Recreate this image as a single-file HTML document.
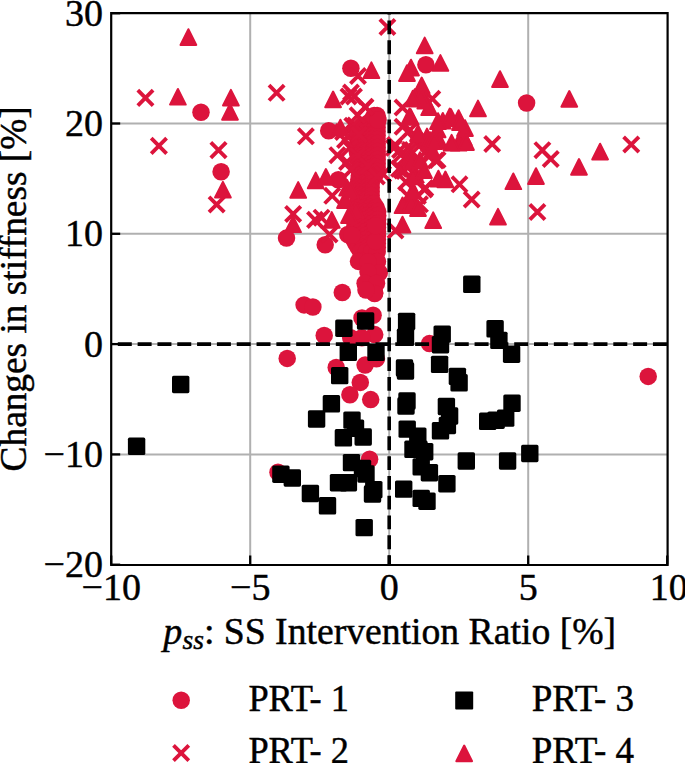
<!DOCTYPE html>
<html><head><meta charset="utf-8"><style>
html,body{margin:0;padding:0;background:#fff;width:685px;height:763px;overflow:hidden;font-family:"Liberation Serif",serif;}
svg{display:block}
</style></head><body>
<svg width="685" height="763" viewBox="0 0 685 763">
<rect width="685" height="763" fill="#fff"/>
<g stroke="#b0b0b0" stroke-width="2">
<line x1="250.2" y1="13.2" x2="250.2" y2="564.7"/>
<line x1="389.2" y1="13.2" x2="389.2" y2="564.7"/>
<line x1="528.2" y1="13.2" x2="528.2" y2="564.7"/>
<line x1="111.2" y1="123.5" x2="667.2" y2="123.5"/>
<line x1="111.2" y1="233.8" x2="667.2" y2="233.8"/>
<line x1="111.2" y1="344.1" x2="667.2" y2="344.1"/>
<line x1="111.2" y1="454.4" x2="667.2" y2="454.4"/>
</g>
<circle cx="374.2" cy="115.6" r="8.75" fill="#dc143c"/>
<circle cx="377.1" cy="115.6" r="8.75" fill="#dc143c"/>
<circle cx="371.9" cy="119.6" r="8.75" fill="#dc143c"/>
<circle cx="377.1" cy="119.6" r="8.75" fill="#dc143c"/>
<circle cx="367.4" cy="123.6" r="8.75" fill="#dc143c"/>
<circle cx="372.3" cy="123.6" r="8.75" fill="#dc143c"/>
<circle cx="377.1" cy="123.6" r="8.75" fill="#dc143c"/>
<circle cx="363.7" cy="127.6" r="8.75" fill="#dc143c"/>
<circle cx="368.2" cy="127.6" r="8.75" fill="#dc143c"/>
<circle cx="372.6" cy="127.6" r="8.75" fill="#dc143c"/>
<circle cx="377.1" cy="127.6" r="8.75" fill="#dc143c"/>
<circle cx="361.0" cy="131.6" r="8.75" fill="#dc143c"/>
<circle cx="366.4" cy="131.6" r="8.75" fill="#dc143c"/>
<circle cx="371.8" cy="131.6" r="8.75" fill="#dc143c"/>
<circle cx="377.1" cy="131.6" r="8.75" fill="#dc143c"/>
<circle cx="358.7" cy="135.6" r="8.75" fill="#dc143c"/>
<circle cx="363.3" cy="135.6" r="8.75" fill="#dc143c"/>
<circle cx="367.9" cy="135.6" r="8.75" fill="#dc143c"/>
<circle cx="372.5" cy="135.6" r="8.75" fill="#dc143c"/>
<circle cx="377.1" cy="135.6" r="8.75" fill="#dc143c"/>
<circle cx="358.1" cy="139.6" r="8.75" fill="#dc143c"/>
<circle cx="362.9" cy="139.6" r="8.75" fill="#dc143c"/>
<circle cx="367.6" cy="139.6" r="8.75" fill="#dc143c"/>
<circle cx="372.4" cy="139.6" r="8.75" fill="#dc143c"/>
<circle cx="377.1" cy="139.6" r="8.75" fill="#dc143c"/>
<circle cx="357.6" cy="143.6" r="8.75" fill="#dc143c"/>
<circle cx="362.5" cy="143.6" r="8.75" fill="#dc143c"/>
<circle cx="367.4" cy="143.6" r="8.75" fill="#dc143c"/>
<circle cx="372.3" cy="143.6" r="8.75" fill="#dc143c"/>
<circle cx="377.2" cy="143.6" r="8.75" fill="#dc143c"/>
<circle cx="357.1" cy="147.6" r="8.75" fill="#dc143c"/>
<circle cx="362.1" cy="147.6" r="8.75" fill="#dc143c"/>
<circle cx="367.1" cy="147.6" r="8.75" fill="#dc143c"/>
<circle cx="372.1" cy="147.6" r="8.75" fill="#dc143c"/>
<circle cx="377.2" cy="147.6" r="8.75" fill="#dc143c"/>
<circle cx="357.2" cy="151.6" r="8.75" fill="#dc143c"/>
<circle cx="362.2" cy="151.6" r="8.75" fill="#dc143c"/>
<circle cx="367.2" cy="151.6" r="8.75" fill="#dc143c"/>
<circle cx="372.2" cy="151.6" r="8.75" fill="#dc143c"/>
<circle cx="377.2" cy="151.6" r="8.75" fill="#dc143c"/>
<circle cx="358.2" cy="155.6" r="8.75" fill="#dc143c"/>
<circle cx="363.0" cy="155.6" r="8.75" fill="#dc143c"/>
<circle cx="367.7" cy="155.6" r="8.75" fill="#dc143c"/>
<circle cx="372.5" cy="155.6" r="8.75" fill="#dc143c"/>
<circle cx="377.2" cy="155.6" r="8.75" fill="#dc143c"/>
<circle cx="359.3" cy="159.6" r="8.75" fill="#dc143c"/>
<circle cx="365.3" cy="159.6" r="8.75" fill="#dc143c"/>
<circle cx="371.2" cy="159.6" r="8.75" fill="#dc143c"/>
<circle cx="377.2" cy="159.6" r="8.75" fill="#dc143c"/>
<circle cx="360.4" cy="163.6" r="8.75" fill="#dc143c"/>
<circle cx="366.0" cy="163.6" r="8.75" fill="#dc143c"/>
<circle cx="371.6" cy="163.6" r="8.75" fill="#dc143c"/>
<circle cx="377.2" cy="163.6" r="8.75" fill="#dc143c"/>
<circle cx="360.4" cy="167.6" r="8.75" fill="#dc143c"/>
<circle cx="366.0" cy="167.6" r="8.75" fill="#dc143c"/>
<circle cx="371.6" cy="167.6" r="8.75" fill="#dc143c"/>
<circle cx="377.2" cy="167.6" r="8.75" fill="#dc143c"/>
<circle cx="359.9" cy="171.6" r="8.75" fill="#dc143c"/>
<circle cx="365.7" cy="171.6" r="8.75" fill="#dc143c"/>
<circle cx="371.5" cy="171.6" r="8.75" fill="#dc143c"/>
<circle cx="377.2" cy="171.6" r="8.75" fill="#dc143c"/>
<circle cx="359.3" cy="175.6" r="8.75" fill="#dc143c"/>
<circle cx="364.4" cy="175.6" r="8.75" fill="#dc143c"/>
<circle cx="369.5" cy="175.6" r="8.75" fill="#dc143c"/>
<circle cx="374.6" cy="175.6" r="8.75" fill="#dc143c"/>
<circle cx="358.8" cy="179.6" r="8.75" fill="#dc143c"/>
<circle cx="363.1" cy="179.6" r="8.75" fill="#dc143c"/>
<circle cx="367.3" cy="179.6" r="8.75" fill="#dc143c"/>
<circle cx="371.6" cy="179.6" r="8.75" fill="#dc143c"/>
<circle cx="358.5" cy="183.6" r="8.75" fill="#dc143c"/>
<circle cx="362.8" cy="183.6" r="8.75" fill="#dc143c"/>
<circle cx="367.0" cy="183.6" r="8.75" fill="#dc143c"/>
<circle cx="371.2" cy="183.6" r="8.75" fill="#dc143c"/>
<circle cx="358.2" cy="187.6" r="8.75" fill="#dc143c"/>
<circle cx="362.6" cy="187.6" r="8.75" fill="#dc143c"/>
<circle cx="366.9" cy="187.6" r="8.75" fill="#dc143c"/>
<circle cx="371.2" cy="187.6" r="8.75" fill="#dc143c"/>
<circle cx="358.0" cy="191.6" r="8.75" fill="#dc143c"/>
<circle cx="362.4" cy="191.6" r="8.75" fill="#dc143c"/>
<circle cx="366.8" cy="191.6" r="8.75" fill="#dc143c"/>
<circle cx="371.2" cy="191.6" r="8.75" fill="#dc143c"/>
<circle cx="357.8" cy="195.6" r="8.75" fill="#dc143c"/>
<circle cx="362.3" cy="195.6" r="8.75" fill="#dc143c"/>
<circle cx="366.8" cy="195.6" r="8.75" fill="#dc143c"/>
<circle cx="371.2" cy="195.6" r="8.75" fill="#dc143c"/>
<circle cx="358.1" cy="199.6" r="8.75" fill="#dc143c"/>
<circle cx="362.5" cy="199.6" r="8.75" fill="#dc143c"/>
<circle cx="366.9" cy="199.6" r="8.75" fill="#dc143c"/>
<circle cx="371.2" cy="199.6" r="8.75" fill="#dc143c"/>
<circle cx="358.3" cy="203.6" r="8.75" fill="#dc143c"/>
<circle cx="363.4" cy="203.6" r="8.75" fill="#dc143c"/>
<circle cx="368.5" cy="203.6" r="8.75" fill="#dc143c"/>
<circle cx="373.6" cy="203.6" r="8.75" fill="#dc143c"/>
<circle cx="358.6" cy="207.6" r="8.75" fill="#dc143c"/>
<circle cx="364.5" cy="207.6" r="8.75" fill="#dc143c"/>
<circle cx="370.3" cy="207.6" r="8.75" fill="#dc143c"/>
<circle cx="376.2" cy="207.6" r="8.75" fill="#dc143c"/>
<circle cx="358.3" cy="211.6" r="8.75" fill="#dc143c"/>
<circle cx="363.2" cy="211.6" r="8.75" fill="#dc143c"/>
<circle cx="368.0" cy="211.6" r="8.75" fill="#dc143c"/>
<circle cx="372.9" cy="211.6" r="8.75" fill="#dc143c"/>
<circle cx="377.7" cy="211.6" r="8.75" fill="#dc143c"/>
<circle cx="357.3" cy="215.6" r="8.75" fill="#dc143c"/>
<circle cx="362.4" cy="215.6" r="8.75" fill="#dc143c"/>
<circle cx="367.5" cy="215.6" r="8.75" fill="#dc143c"/>
<circle cx="372.6" cy="215.6" r="8.75" fill="#dc143c"/>
<circle cx="377.7" cy="215.6" r="8.75" fill="#dc143c"/>
<circle cx="356.2" cy="219.6" r="8.75" fill="#dc143c"/>
<circle cx="361.6" cy="219.6" r="8.75" fill="#dc143c"/>
<circle cx="366.9" cy="219.6" r="8.75" fill="#dc143c"/>
<circle cx="372.3" cy="219.6" r="8.75" fill="#dc143c"/>
<circle cx="377.6" cy="219.6" r="8.75" fill="#dc143c"/>
<circle cx="355.1" cy="223.6" r="8.75" fill="#dc143c"/>
<circle cx="360.7" cy="223.6" r="8.75" fill="#dc143c"/>
<circle cx="366.4" cy="223.6" r="8.75" fill="#dc143c"/>
<circle cx="372.0" cy="223.6" r="8.75" fill="#dc143c"/>
<circle cx="377.6" cy="223.6" r="8.75" fill="#dc143c"/>
<circle cx="354.6" cy="227.6" r="8.75" fill="#dc143c"/>
<circle cx="360.3" cy="227.6" r="8.75" fill="#dc143c"/>
<circle cx="366.1" cy="227.6" r="8.75" fill="#dc143c"/>
<circle cx="371.8" cy="227.6" r="8.75" fill="#dc143c"/>
<circle cx="377.5" cy="227.6" r="8.75" fill="#dc143c"/>
<circle cx="354.3" cy="231.6" r="8.75" fill="#dc143c"/>
<circle cx="360.1" cy="231.6" r="8.75" fill="#dc143c"/>
<circle cx="365.9" cy="231.6" r="8.75" fill="#dc143c"/>
<circle cx="371.7" cy="231.6" r="8.75" fill="#dc143c"/>
<circle cx="377.5" cy="231.6" r="8.75" fill="#dc143c"/>
<circle cx="354.0" cy="235.6" r="8.75" fill="#dc143c"/>
<circle cx="359.9" cy="235.6" r="8.75" fill="#dc143c"/>
<circle cx="365.7" cy="235.6" r="8.75" fill="#dc143c"/>
<circle cx="371.6" cy="235.6" r="8.75" fill="#dc143c"/>
<circle cx="377.4" cy="235.6" r="8.75" fill="#dc143c"/>
<circle cx="353.8" cy="239.6" r="8.75" fill="#dc143c"/>
<circle cx="359.7" cy="239.6" r="8.75" fill="#dc143c"/>
<circle cx="365.6" cy="239.6" r="8.75" fill="#dc143c"/>
<circle cx="371.5" cy="239.6" r="8.75" fill="#dc143c"/>
<circle cx="377.4" cy="239.6" r="8.75" fill="#dc143c"/>
<circle cx="355.9" cy="243.6" r="8.75" fill="#dc143c"/>
<circle cx="361.3" cy="243.6" r="8.75" fill="#dc143c"/>
<circle cx="366.6" cy="243.6" r="8.75" fill="#dc143c"/>
<circle cx="372.0" cy="243.6" r="8.75" fill="#dc143c"/>
<circle cx="377.3" cy="243.6" r="8.75" fill="#dc143c"/>
<circle cx="358.3" cy="247.6" r="8.75" fill="#dc143c"/>
<circle cx="363.1" cy="247.6" r="8.75" fill="#dc143c"/>
<circle cx="367.8" cy="247.6" r="8.75" fill="#dc143c"/>
<circle cx="372.5" cy="247.6" r="8.75" fill="#dc143c"/>
<circle cx="377.3" cy="247.6" r="8.75" fill="#dc143c"/>
<circle cx="360.7" cy="251.6" r="8.75" fill="#dc143c"/>
<circle cx="366.2" cy="251.6" r="8.75" fill="#dc143c"/>
<circle cx="371.7" cy="251.6" r="8.75" fill="#dc143c"/>
<circle cx="377.2" cy="251.6" r="8.75" fill="#dc143c"/>
<circle cx="201.0" cy="112.3" r="8.75" fill="#dc143c"/>
<circle cx="221.1" cy="171.7" r="8.75" fill="#dc143c"/>
<circle cx="350.9" cy="68.3" r="8.75" fill="#dc143c"/>
<circle cx="374.5" cy="117.0" r="8.75" fill="#dc143c"/>
<circle cx="378.0" cy="120.0" r="8.75" fill="#dc143c"/>
<circle cx="328.7" cy="130.7" r="8.75" fill="#dc143c"/>
<circle cx="338.3" cy="179.7" r="8.75" fill="#dc143c"/>
<circle cx="325.2" cy="244.7" r="8.75" fill="#dc143c"/>
<circle cx="342.3" cy="292.5" r="8.75" fill="#dc143c"/>
<circle cx="304.1" cy="304.9" r="8.75" fill="#dc143c"/>
<circle cx="312.9" cy="307.0" r="8.75" fill="#dc143c"/>
<circle cx="324.2" cy="335.4" r="8.75" fill="#dc143c"/>
<circle cx="287.2" cy="358.4" r="8.75" fill="#dc143c"/>
<circle cx="370.0" cy="286.4" r="8.75" fill="#dc143c"/>
<circle cx="374.7" cy="292.8" r="8.75" fill="#dc143c"/>
<circle cx="373.1" cy="315.3" r="8.75" fill="#dc143c"/>
<circle cx="374.7" cy="334.6" r="8.75" fill="#dc143c"/>
<circle cx="361.9" cy="337.8" r="8.75" fill="#dc143c"/>
<circle cx="350.7" cy="337.8" r="8.75" fill="#dc143c"/>
<circle cx="365.1" cy="365.1" r="8.75" fill="#dc143c"/>
<circle cx="336.2" cy="367.5" r="8.75" fill="#dc143c"/>
<circle cx="360.3" cy="382.4" r="8.75" fill="#dc143c"/>
<circle cx="349.9" cy="394.8" r="8.75" fill="#dc143c"/>
<circle cx="370.7" cy="399.6" r="8.75" fill="#dc143c"/>
<circle cx="376.4" cy="358.7" r="8.75" fill="#dc143c"/>
<circle cx="369.6" cy="459.3" r="8.75" fill="#dc143c"/>
<circle cx="278.0" cy="472.3" r="8.75" fill="#dc143c"/>
<circle cx="429.5" cy="343.6" r="8.75" fill="#dc143c"/>
<circle cx="425.9" cy="64.7" r="8.75" fill="#dc143c"/>
<circle cx="526.6" cy="103.0" r="8.75" fill="#dc143c"/>
<circle cx="648.2" cy="376.4" r="8.75" fill="#dc143c"/>
<circle cx="286.5" cy="238.1" r="8.75" fill="#dc143c"/>
<circle cx="347.8" cy="234.5" r="8.75" fill="#dc143c"/>
<circle cx="351.9" cy="235.2" r="8.75" fill="#dc143c"/>
<circle cx="361.3" cy="261.1" r="8.75" fill="#dc143c"/>
<circle cx="367.6" cy="283.1" r="8.75" fill="#dc143c"/>
<circle cx="373.9" cy="292.5" r="8.75" fill="#dc143c"/>
<circle cx="375.5" cy="272.9" r="8.75" fill="#dc143c"/>
<circle cx="377.0" cy="262.0" r="8.75" fill="#dc143c"/>
<circle cx="375.5" cy="241.4" r="8.75" fill="#dc143c"/>
<circle cx="375.5" cy="225.7" r="8.75" fill="#dc143c"/>
<circle cx="358.5" cy="261.4" r="8.75" fill="#dc143c"/>
<circle cx="377.4" cy="261.4" r="8.75" fill="#dc143c"/>
<circle cx="368.0" cy="262.0" r="8.75" fill="#dc143c"/>
<circle cx="379.3" cy="272.8" r="8.75" fill="#dc143c"/>
<circle cx="368.0" cy="272.0" r="8.75" fill="#dc143c"/>
<circle cx="365.1" cy="283.2" r="8.75" fill="#dc143c"/>
<circle cx="376.5" cy="283.2" r="8.75" fill="#dc143c"/>
<circle cx="374.6" cy="293.6" r="8.75" fill="#dc143c"/>
<circle cx="366.0" cy="290.0" r="8.75" fill="#dc143c"/>
<circle cx="362.0" cy="318.0" r="8.75" fill="#dc143c"/>
<path d="M137.8 90.2L153.1 105.6M137.8 105.6L153.1 90.2" stroke="#dc143c" stroke-width="3.85" fill="none"/>
<path d="M151.2 138.2L166.6 153.6M151.2 153.6L166.6 138.2" stroke="#dc143c" stroke-width="3.85" fill="none"/>
<path d="M210.8 142.4L226.2 157.8M210.8 157.8L226.2 142.4" stroke="#dc143c" stroke-width="3.85" fill="none"/>
<path d="M209.0 196.8L224.3 212.1M209.0 212.1L224.3 196.8" stroke="#dc143c" stroke-width="3.85" fill="none"/>
<path d="M269.0 85.1L284.2 100.5M269.0 100.5L284.2 85.1" stroke="#dc143c" stroke-width="3.85" fill="none"/>
<path d="M350.4 68.3L365.6 83.7M350.4 83.7L365.6 68.3" stroke="#dc143c" stroke-width="3.85" fill="none"/>
<path d="M343.4 84.8L358.6 100.2M343.4 100.2L358.6 84.8" stroke="#dc143c" stroke-width="3.85" fill="none"/>
<path d="M340.9 88.8L356.1 104.2M340.9 104.2L356.1 88.8" stroke="#dc143c" stroke-width="3.85" fill="none"/>
<path d="M346.4 88.8L361.6 104.2M346.4 104.2L361.6 88.8" stroke="#dc143c" stroke-width="3.85" fill="none"/>
<path d="M357.9 99.5L373.1 114.9M357.9 114.9L373.1 99.5" stroke="#dc143c" stroke-width="3.85" fill="none"/>
<path d="M379.8 19.4L395.0 34.6M379.8 34.6L395.0 19.4" stroke="#dc143c" stroke-width="3.85" fill="none"/>
<path d="M298.2 128.7L313.5 144.0M298.2 144.0L313.5 128.7" stroke="#dc143c" stroke-width="3.85" fill="none"/>
<path d="M329.8 147.5L345.0 162.8M329.8 162.8L345.0 147.5" stroke="#dc143c" stroke-width="3.85" fill="none"/>
<path d="M324.6 188.2L339.8 203.5M324.6 203.5L339.8 188.2" stroke="#dc143c" stroke-width="3.85" fill="none"/>
<path d="M285.5 206.3L300.8 221.7M285.5 221.7L300.8 206.3" stroke="#dc143c" stroke-width="3.85" fill="none"/>
<path d="M307.4 212.2L322.6 227.6M307.4 227.6L322.6 212.2" stroke="#dc143c" stroke-width="3.85" fill="none"/>
<path d="M313.9 210.0L329.1 225.3M313.9 225.3L329.1 210.0" stroke="#dc143c" stroke-width="3.85" fill="none"/>
<path d="M322.0 226.8L337.2 242.2M322.0 242.2L337.2 226.8" stroke="#dc143c" stroke-width="3.85" fill="none"/>
<path d="M394.9 99.8L410.1 115.2M394.9 115.2L410.1 99.8" stroke="#dc143c" stroke-width="3.85" fill="none"/>
<path d="M424.7 91.1L439.9 106.5M424.7 106.5L439.9 91.1" stroke="#dc143c" stroke-width="3.85" fill="none"/>
<path d="M394.9 119.1L410.1 134.4M394.9 134.4L410.1 119.1" stroke="#dc143c" stroke-width="3.85" fill="none"/>
<path d="M386.2 140.2L401.4 155.5M386.2 155.5L401.4 140.2" stroke="#dc143c" stroke-width="3.85" fill="none"/>
<path d="M393.2 147.2L408.4 162.5M393.2 162.5L408.4 147.2" stroke="#dc143c" stroke-width="3.85" fill="none"/>
<path d="M391.4 161.2L406.6 176.5M391.4 176.5L406.6 161.2" stroke="#dc143c" stroke-width="3.85" fill="none"/>
<path d="M417.7 180.4L432.9 195.8M417.7 195.8L432.9 180.4" stroke="#dc143c" stroke-width="3.85" fill="none"/>
<path d="M430.0 152.3L445.2 167.7M430.0 167.7L445.2 152.3" stroke="#dc143c" stroke-width="3.85" fill="none"/>
<path d="M421.2 148.9L436.4 164.2M421.2 164.2L436.4 148.9" stroke="#dc143c" stroke-width="3.85" fill="none"/>
<path d="M484.6 136.3L499.8 151.7M484.6 151.7L499.8 136.3" stroke="#dc143c" stroke-width="3.85" fill="none"/>
<path d="M451.9 176.7L467.1 192.0M451.9 192.0L467.1 176.7" stroke="#dc143c" stroke-width="3.85" fill="none"/>
<path d="M464.1 191.8L479.3 207.2M464.1 207.2L479.3 191.8" stroke="#dc143c" stroke-width="3.85" fill="none"/>
<path d="M534.8 142.5L550.0 157.8M534.8 157.8L550.0 142.5" stroke="#dc143c" stroke-width="3.85" fill="none"/>
<path d="M543.1 151.3L558.4 166.7M543.1 166.7L558.4 151.3" stroke="#dc143c" stroke-width="3.85" fill="none"/>
<path d="M623.6 136.9L638.9 152.2M623.6 152.2L638.9 136.9" stroke="#dc143c" stroke-width="3.85" fill="none"/>
<path d="M529.8 204.3L545.0 219.7M529.8 219.7L545.0 204.3" stroke="#dc143c" stroke-width="3.85" fill="none"/>
<path d="M416.8 181.8L432.0 197.1M416.8 197.1L432.0 181.8" stroke="#dc143c" stroke-width="3.85" fill="none"/>
<path d="M412.4 196.7L427.6 212.0M412.4 212.0L427.6 196.7" stroke="#dc143c" stroke-width="3.85" fill="none"/>
<path d="M387.9 222.9L403.1 238.2M387.9 238.2L403.1 222.9" stroke="#dc143c" stroke-width="3.85" fill="none"/>
<path d="M396.7 163.3L411.9 178.7M396.7 178.7L411.9 163.3" stroke="#dc143c" stroke-width="3.85" fill="none"/>
<path d="M428.2 152.8L443.4 168.2M428.2 168.2L443.4 152.8" stroke="#dc143c" stroke-width="3.85" fill="none"/>
<path d="M387.4 137.3L402.6 152.7M387.4 152.7L402.6 137.3" stroke="#dc143c" stroke-width="3.85" fill="none"/>
<path d="M392.4 142.3L407.6 157.7M392.4 157.7L407.6 142.3" stroke="#dc143c" stroke-width="3.85" fill="none"/>
<path d="M397.4 150.3L412.6 165.7M397.4 165.7L412.6 150.3" stroke="#dc143c" stroke-width="3.85" fill="none"/>
<path d="M402.4 142.3L417.6 157.7M402.4 157.7L417.6 142.3" stroke="#dc143c" stroke-width="3.85" fill="none"/>
<path d="M407.4 132.3L422.6 147.7M407.4 147.7L422.6 132.3" stroke="#dc143c" stroke-width="3.85" fill="none"/>
<path d="M402.4 122.3L417.6 137.7M402.4 137.7L417.6 122.3" stroke="#dc143c" stroke-width="3.85" fill="none"/>
<path d="M412.4 137.3L427.6 152.7M412.4 152.7L427.6 137.3" stroke="#dc143c" stroke-width="3.85" fill="none"/>
<path d="M417.4 144.3L432.6 159.7M417.4 159.7L432.6 144.3" stroke="#dc143c" stroke-width="3.85" fill="none"/>
<path d="M398.4 174.3L413.6 189.7M398.4 189.7L413.6 174.3" stroke="#dc143c" stroke-width="3.85" fill="none"/>
<path d="M408.4 168.3L423.6 183.7M408.4 183.7L423.6 168.3" stroke="#dc143c" stroke-width="3.85" fill="none"/>
<path d="M400.4 188.3L415.6 203.7M400.4 203.7L415.6 188.3" stroke="#dc143c" stroke-width="3.85" fill="none"/>
<path d="M410.4 188.3L425.6 203.7M410.4 203.7L425.6 188.3" stroke="#dc143c" stroke-width="3.85" fill="none"/>
<path d="M347.5 117.8L362.8 133.1M347.5 133.1L362.8 117.8" stroke="#dc143c" stroke-width="3.85" fill="none"/>
<path d="M357.5 99.2L372.8 114.6M357.5 114.6L372.8 99.2" stroke="#dc143c" stroke-width="3.85" fill="none"/>
<path d="M375.5 166.5L390.8 181.8M375.5 181.8L390.8 166.5" stroke="#dc143c" stroke-width="3.85" fill="none"/>
<path d="M394.4 162.8L409.6 178.2M394.4 178.2L409.6 162.8" stroke="#dc143c" stroke-width="3.85" fill="none"/>
<path d="M344.7 118.1L359.9 133.4M344.7 133.4L359.9 118.1" stroke="#dc143c" stroke-width="3.85" fill="none"/>
<path d="M351.7 126.8L366.9 142.2M351.7 142.2L366.9 126.8" stroke="#dc143c" stroke-width="3.85" fill="none"/>
<path d="M342.1 140.0L357.3 155.3M342.1 155.3L357.3 140.0" stroke="#dc143c" stroke-width="3.85" fill="none"/>
<path d="M337.4 132.3L352.6 147.7M337.4 147.7L352.6 132.3" stroke="#dc143c" stroke-width="3.85" fill="none"/>
<path d="M350.0 147.8L365.2 163.2M350.0 163.2L365.2 147.8" stroke="#dc143c" stroke-width="3.85" fill="none"/>
<path d="M360.4 158.3L375.6 173.7M360.4 173.7L375.6 158.3" stroke="#dc143c" stroke-width="3.85" fill="none"/>
<path d="M369.2 168.9L384.5 184.2M369.2 184.2L384.5 168.9" stroke="#dc143c" stroke-width="3.85" fill="none"/>
<path d="M350.0 107.6L365.2 123.0M350.0 123.0L365.2 107.6" stroke="#dc143c" stroke-width="3.85" fill="none"/>
<path d="M339.4 154.3L354.6 169.7M339.4 169.7L354.6 154.3" stroke="#dc143c" stroke-width="3.85" fill="none"/>
<path d="M343.4 162.3L358.6 177.7M343.4 177.7L358.6 162.3" stroke="#dc143c" stroke-width="3.85" fill="none"/>
<path d="M335.4 124.3L350.6 139.7M335.4 139.7L350.6 124.3" stroke="#dc143c" stroke-width="3.85" fill="none"/>
<rect x="172.0" y="375.8" width="17.4" height="17.4" rx="1.6" fill="#000"/>
<rect x="127.9" y="437.6" width="17.4" height="17.4" rx="1.6" fill="#000"/>
<rect x="335.2" y="319.5" width="17.4" height="17.4" rx="1.6" fill="#000"/>
<rect x="356.9" y="312.3" width="17.4" height="17.4" rx="1.6" fill="#000"/>
<rect x="339.6" y="343.6" width="17.4" height="17.4" rx="1.6" fill="#000"/>
<rect x="367.3" y="343.6" width="17.4" height="17.4" rx="1.6" fill="#000"/>
<rect x="331.0" y="366.9" width="17.4" height="17.4" rx="1.6" fill="#000"/>
<rect x="322.7" y="395.1" width="17.4" height="17.4" rx="1.6" fill="#000"/>
<rect x="307.9" y="410.3" width="17.4" height="17.4" rx="1.6" fill="#000"/>
<rect x="343.3" y="411.4" width="17.4" height="17.4" rx="1.6" fill="#000"/>
<rect x="346.8" y="419.5" width="17.4" height="17.4" rx="1.6" fill="#000"/>
<rect x="334.7" y="429.1" width="17.4" height="17.4" rx="1.6" fill="#000"/>
<rect x="354.5" y="428.3" width="17.4" height="17.4" rx="1.6" fill="#000"/>
<rect x="342.8" y="453.9" width="17.4" height="17.4" rx="1.6" fill="#000"/>
<rect x="353.8" y="459.8" width="17.4" height="17.4" rx="1.6" fill="#000"/>
<rect x="329.8" y="474.0" width="17.4" height="17.4" rx="1.6" fill="#000"/>
<rect x="339.7" y="474.0" width="17.4" height="17.4" rx="1.6" fill="#000"/>
<rect x="357.3" y="465.3" width="17.4" height="17.4" rx="1.6" fill="#000"/>
<rect x="365.1" y="480.9" width="17.4" height="17.4" rx="1.6" fill="#000"/>
<rect x="363.8" y="485.3" width="17.4" height="17.4" rx="1.6" fill="#000"/>
<rect x="272.2" y="465.5" width="17.4" height="17.4" rx="1.6" fill="#000"/>
<rect x="283.6" y="469.3" width="17.4" height="17.4" rx="1.6" fill="#000"/>
<rect x="301.7" y="484.8" width="17.4" height="17.4" rx="1.6" fill="#000"/>
<rect x="318.8" y="497.1" width="17.4" height="17.4" rx="1.6" fill="#000"/>
<rect x="355.5" y="518.9" width="17.4" height="17.4" rx="1.6" fill="#000"/>
<rect x="463.1" y="275.6" width="17.4" height="17.4" rx="1.6" fill="#000"/>
<rect x="397.9" y="312.7" width="17.4" height="17.4" rx="1.6" fill="#000"/>
<rect x="396.8" y="328.6" width="17.4" height="17.4" rx="1.6" fill="#000"/>
<rect x="433.5" y="325.4" width="17.4" height="17.4" rx="1.6" fill="#000"/>
<rect x="431.8" y="336.0" width="17.4" height="17.4" rx="1.6" fill="#000"/>
<rect x="486.4" y="320.1" width="17.4" height="17.4" rx="1.6" fill="#000"/>
<rect x="490.2" y="331.7" width="17.4" height="17.4" rx="1.6" fill="#000"/>
<rect x="502.9" y="345.5" width="17.4" height="17.4" rx="1.6" fill="#000"/>
<rect x="395.8" y="359.3" width="17.4" height="17.4" rx="1.6" fill="#000"/>
<rect x="430.9" y="355.7" width="17.4" height="17.4" rx="1.6" fill="#000"/>
<rect x="448.7" y="367.7" width="17.4" height="17.4" rx="1.6" fill="#000"/>
<rect x="450.4" y="374.1" width="17.4" height="17.4" rx="1.6" fill="#000"/>
<rect x="398.3" y="392.3" width="17.4" height="17.4" rx="1.6" fill="#000"/>
<rect x="397.3" y="397.3" width="17.4" height="17.4" rx="1.6" fill="#000"/>
<rect x="437.7" y="397.8" width="17.4" height="17.4" rx="1.6" fill="#000"/>
<rect x="440.9" y="407.3" width="17.4" height="17.4" rx="1.6" fill="#000"/>
<rect x="438.7" y="416.8" width="17.4" height="17.4" rx="1.6" fill="#000"/>
<rect x="431.8" y="422.1" width="17.4" height="17.4" rx="1.6" fill="#000"/>
<rect x="398.5" y="420.4" width="17.4" height="17.4" rx="1.6" fill="#000"/>
<rect x="409.1" y="427.4" width="17.4" height="17.4" rx="1.6" fill="#000"/>
<rect x="404.3" y="440.6" width="17.4" height="17.4" rx="1.6" fill="#000"/>
<rect x="410.2" y="440.6" width="17.4" height="17.4" rx="1.6" fill="#000"/>
<rect x="416.0" y="443.0" width="17.4" height="17.4" rx="1.6" fill="#000"/>
<rect x="412.5" y="458.2" width="17.4" height="17.4" rx="1.6" fill="#000"/>
<rect x="420.7" y="464.0" width="17.4" height="17.4" rx="1.6" fill="#000"/>
<rect x="438.2" y="475.0" width="17.4" height="17.4" rx="1.6" fill="#000"/>
<rect x="395.0" y="480.4" width="17.4" height="17.4" rx="1.6" fill="#000"/>
<rect x="412.5" y="489.7" width="17.4" height="17.4" rx="1.6" fill="#000"/>
<rect x="418.3" y="492.5" width="17.4" height="17.4" rx="1.6" fill="#000"/>
<rect x="457.6" y="452.3" width="17.4" height="17.4" rx="1.6" fill="#000"/>
<rect x="498.9" y="452.3" width="17.4" height="17.4" rx="1.6" fill="#000"/>
<rect x="521.1" y="444.8" width="17.4" height="17.4" rx="1.6" fill="#000"/>
<rect x="479.0" y="412.6" width="17.4" height="17.4" rx="1.6" fill="#000"/>
<rect x="487.4" y="411.5" width="17.4" height="17.4" rx="1.6" fill="#000"/>
<rect x="497.0" y="409.4" width="17.4" height="17.4" rx="1.6" fill="#000"/>
<rect x="503.3" y="394.5" width="17.4" height="17.4" rx="1.6" fill="#000"/>
<rect x="396.8" y="362.3" width="17.4" height="17.4" rx="1.6" fill="#000"/>
<path d="M188.40 29.23L196.28 44.90L180.52 44.90Z" fill="#dc143c" stroke="#dc143c" stroke-width="2.0" stroke-linejoin="round"/>
<path d="M177.90 88.93L185.78 104.60L170.02 104.60Z" fill="#dc143c" stroke="#dc143c" stroke-width="2.0" stroke-linejoin="round"/>
<path d="M230.90 89.83L238.78 105.50L223.02 105.50Z" fill="#dc143c" stroke="#dc143c" stroke-width="2.0" stroke-linejoin="round"/>
<path d="M230.00 104.03L237.88 119.70L222.12 119.70Z" fill="#dc143c" stroke="#dc143c" stroke-width="2.0" stroke-linejoin="round"/>
<path d="M222.90 181.83L230.78 197.50L215.02 197.50Z" fill="#dc143c" stroke="#dc143c" stroke-width="2.0" stroke-linejoin="round"/>
<path d="M371.40 62.33L379.28 78.00L363.52 78.00Z" fill="#dc143c" stroke="#dc143c" stroke-width="2.0" stroke-linejoin="round"/>
<path d="M333.10 91.53L340.98 107.20L325.22 107.20Z" fill="#dc143c" stroke="#dc143c" stroke-width="2.0" stroke-linejoin="round"/>
<path d="M340.40 119.73L348.28 135.40L332.52 135.40Z" fill="#dc143c" stroke="#dc143c" stroke-width="2.0" stroke-linejoin="round"/>
<path d="M298.20 182.13L306.08 197.80L290.32 197.80Z" fill="#dc143c" stroke="#dc143c" stroke-width="2.0" stroke-linejoin="round"/>
<path d="M315.70 172.63L323.58 188.30L307.82 188.30Z" fill="#dc143c" stroke="#dc143c" stroke-width="2.0" stroke-linejoin="round"/>
<path d="M325.90 169.03L333.78 184.70L318.02 184.70Z" fill="#dc143c" stroke="#dc143c" stroke-width="2.0" stroke-linejoin="round"/>
<path d="M293.10 216.43L300.98 232.10L285.22 232.10Z" fill="#dc143c" stroke="#dc143c" stroke-width="2.0" stroke-linejoin="round"/>
<path d="M331.80 212.13L339.68 227.80L323.92 227.80Z" fill="#dc143c" stroke="#dc143c" stroke-width="2.0" stroke-linejoin="round"/>
<path d="M347.10 179.93L354.98 195.60L339.22 195.60Z" fill="#dc143c" stroke="#dc143c" stroke-width="2.0" stroke-linejoin="round"/>
<path d="M350.60 181.93L358.48 197.60L342.72 197.60Z" fill="#dc143c" stroke="#dc143c" stroke-width="2.0" stroke-linejoin="round"/>
<path d="M355.80 202.13L363.68 217.80L347.92 217.80Z" fill="#dc143c" stroke="#dc143c" stroke-width="2.0" stroke-linejoin="round"/>
<path d="M424.70 37.63L432.58 53.30L416.82 53.30Z" fill="#dc143c" stroke="#dc143c" stroke-width="2.0" stroke-linejoin="round"/>
<path d="M440.40 55.13L448.28 70.80L432.52 70.80Z" fill="#dc143c" stroke="#dc143c" stroke-width="2.0" stroke-linejoin="round"/>
<path d="M411.00 59.73L418.88 75.40L403.12 75.40Z" fill="#dc143c" stroke="#dc143c" stroke-width="2.0" stroke-linejoin="round"/>
<path d="M407.00 65.23L414.88 80.90L399.12 80.90Z" fill="#dc143c" stroke="#dc143c" stroke-width="2.0" stroke-linejoin="round"/>
<path d="M500.00 71.23L507.88 86.90L492.12 86.90Z" fill="#dc143c" stroke="#dc143c" stroke-width="2.0" stroke-linejoin="round"/>
<path d="M421.70 77.53L429.58 93.20L413.82 93.20Z" fill="#dc143c" stroke="#dc143c" stroke-width="2.0" stroke-linejoin="round"/>
<path d="M415.00 89.43L422.88 105.10L407.12 105.10Z" fill="#dc143c" stroke="#dc143c" stroke-width="2.0" stroke-linejoin="round"/>
<path d="M429.10 99.43L436.98 115.10L421.22 115.10Z" fill="#dc143c" stroke="#dc143c" stroke-width="2.0" stroke-linejoin="round"/>
<path d="M410.70 109.13L418.58 124.80L402.82 124.80Z" fill="#dc143c" stroke="#dc143c" stroke-width="2.0" stroke-linejoin="round"/>
<path d="M478.00 100.63L485.88 116.30L470.12 116.30Z" fill="#dc143c" stroke="#dc143c" stroke-width="2.0" stroke-linejoin="round"/>
<path d="M449.80 108.53L457.68 124.20L441.92 124.20Z" fill="#dc143c" stroke="#dc143c" stroke-width="2.0" stroke-linejoin="round"/>
<path d="M458.60 110.23L466.48 125.90L450.72 125.90Z" fill="#dc143c" stroke="#dc143c" stroke-width="2.0" stroke-linejoin="round"/>
<path d="M442.80 112.93L450.68 128.60L434.92 128.60Z" fill="#dc143c" stroke="#dc143c" stroke-width="2.0" stroke-linejoin="round"/>
<path d="M437.60 121.63L445.48 137.30L429.72 137.30Z" fill="#dc143c" stroke="#dc143c" stroke-width="2.0" stroke-linejoin="round"/>
<path d="M463.80 129.53L471.68 145.20L455.92 145.20Z" fill="#dc143c" stroke="#dc143c" stroke-width="2.0" stroke-linejoin="round"/>
<path d="M458.60 134.83L466.48 150.50L450.72 150.50Z" fill="#dc143c" stroke="#dc143c" stroke-width="2.0" stroke-linejoin="round"/>
<path d="M427.00 128.63L434.88 144.30L419.12 144.30Z" fill="#dc143c" stroke="#dc143c" stroke-width="2.0" stroke-linejoin="round"/>
<path d="M439.30 133.03L447.18 148.70L431.42 148.70Z" fill="#dc143c" stroke="#dc143c" stroke-width="2.0" stroke-linejoin="round"/>
<path d="M451.60 134.83L459.48 150.50L443.72 150.50Z" fill="#dc143c" stroke="#dc143c" stroke-width="2.0" stroke-linejoin="round"/>
<path d="M409.50 108.53L417.38 124.20L401.62 124.20Z" fill="#dc143c" stroke="#dc143c" stroke-width="2.0" stroke-linejoin="round"/>
<path d="M410.40 147.03L418.28 162.70L402.52 162.70Z" fill="#dc143c" stroke="#dc143c" stroke-width="2.0" stroke-linejoin="round"/>
<path d="M414.80 164.53L422.68 180.20L406.92 180.20Z" fill="#dc143c" stroke="#dc143c" stroke-width="2.0" stroke-linejoin="round"/>
<path d="M407.80 196.13L415.68 211.80L399.92 211.80Z" fill="#dc143c" stroke="#dc143c" stroke-width="2.0" stroke-linejoin="round"/>
<path d="M425.30 92.73L433.18 108.40L417.42 108.40Z" fill="#dc143c" stroke="#dc143c" stroke-width="2.0" stroke-linejoin="round"/>
<path d="M414.80 89.23L422.68 104.90L406.92 104.90Z" fill="#dc143c" stroke="#dc143c" stroke-width="2.0" stroke-linejoin="round"/>
<path d="M438.40 170.73L446.28 186.40L430.52 186.40Z" fill="#dc143c" stroke="#dc143c" stroke-width="2.0" stroke-linejoin="round"/>
<path d="M445.40 171.53L453.28 187.20L437.52 187.20Z" fill="#dc143c" stroke="#dc143c" stroke-width="2.0" stroke-linejoin="round"/>
<path d="M433.20 212.33L441.08 228.00L425.32 228.00Z" fill="#dc143c" stroke="#dc143c" stroke-width="2.0" stroke-linejoin="round"/>
<path d="M402.50 216.73L410.38 232.40L394.62 232.40Z" fill="#dc143c" stroke="#dc143c" stroke-width="2.0" stroke-linejoin="round"/>
<path d="M498.00 208.83L505.88 224.50L490.12 224.50Z" fill="#dc143c" stroke="#dc143c" stroke-width="2.0" stroke-linejoin="round"/>
<path d="M402.50 197.43L410.38 213.10L394.62 213.10Z" fill="#dc143c" stroke="#dc143c" stroke-width="2.0" stroke-linejoin="round"/>
<path d="M411.30 194.83L419.18 210.50L403.42 210.50Z" fill="#dc143c" stroke="#dc143c" stroke-width="2.0" stroke-linejoin="round"/>
<path d="M413.00 182.53L420.88 198.20L405.12 198.20Z" fill="#dc143c" stroke="#dc143c" stroke-width="2.0" stroke-linejoin="round"/>
<path d="M413.00 168.53L420.88 184.20L405.12 184.20Z" fill="#dc143c" stroke="#dc143c" stroke-width="2.0" stroke-linejoin="round"/>
<path d="M411.30 152.73L419.18 168.40L403.42 168.40Z" fill="#dc143c" stroke="#dc143c" stroke-width="2.0" stroke-linejoin="round"/>
<path d="M569.30 91.03L577.18 106.70L561.42 106.70Z" fill="#dc143c" stroke="#dc143c" stroke-width="2.0" stroke-linejoin="round"/>
<path d="M600.10 143.73L607.98 159.40L592.22 159.40Z" fill="#dc143c" stroke="#dc143c" stroke-width="2.0" stroke-linejoin="round"/>
<path d="M579.00 159.03L586.88 174.70L571.12 174.70Z" fill="#dc143c" stroke="#dc143c" stroke-width="2.0" stroke-linejoin="round"/>
<path d="M513.30 173.43L521.18 189.10L505.42 189.10Z" fill="#dc143c" stroke="#dc143c" stroke-width="2.0" stroke-linejoin="round"/>
<path d="M536.00 168.23L543.88 183.90L528.12 183.90Z" fill="#dc143c" stroke="#dc143c" stroke-width="2.0" stroke-linejoin="round"/>
<path d="M418.00 125.23L425.88 140.90L410.12 140.90Z" fill="#dc143c" stroke="#dc143c" stroke-width="2.0" stroke-linejoin="round"/>
<path d="M430.00 132.23L437.88 147.90L422.12 147.90Z" fill="#dc143c" stroke="#dc143c" stroke-width="2.0" stroke-linejoin="round"/>
<path d="M432.00 142.23L439.88 157.90L424.12 157.90Z" fill="#dc143c" stroke="#dc143c" stroke-width="2.0" stroke-linejoin="round"/>
<path d="M420.00 152.23L427.88 167.90L412.12 167.90Z" fill="#dc143c" stroke="#dc143c" stroke-width="2.0" stroke-linejoin="round"/>
<path d="M424.00 162.23L431.88 177.90L416.12 177.90Z" fill="#dc143c" stroke="#dc143c" stroke-width="2.0" stroke-linejoin="round"/>
<path d="M418.00 200.23L425.88 215.90L410.12 215.90Z" fill="#dc143c" stroke="#dc143c" stroke-width="2.0" stroke-linejoin="round"/>
<path d="M465.00 120.23L472.88 135.90L457.12 135.90Z" fill="#dc143c" stroke="#dc143c" stroke-width="2.0" stroke-linejoin="round"/>
<path d="M434.00 133.23L441.88 148.90L426.12 148.90Z" fill="#dc143c" stroke="#dc143c" stroke-width="2.0" stroke-linejoin="round"/>
<path d="M466.00 134.23L473.88 149.90L458.12 149.90Z" fill="#dc143c" stroke="#dc143c" stroke-width="2.0" stroke-linejoin="round"/>
<path d="M451.00 109.23L458.88 124.90L443.12 124.90Z" fill="#dc143c" stroke="#dc143c" stroke-width="2.0" stroke-linejoin="round"/>
<path d="M460.00 114.23L467.88 129.90L452.12 129.90Z" fill="#dc143c" stroke="#dc143c" stroke-width="2.0" stroke-linejoin="round"/>
<path d="M421.00 89.23L428.88 104.90L413.12 104.90Z" fill="#dc143c" stroke="#dc143c" stroke-width="2.0" stroke-linejoin="round"/>
<path d="M412.70 90.83L420.58 106.50L404.82 106.50Z" fill="#dc143c" stroke="#dc143c" stroke-width="2.0" stroke-linejoin="round"/>
<path d="M345.00 192.23L352.88 207.90L337.12 207.90Z" fill="#dc143c" stroke="#dc143c" stroke-width="2.0" stroke-linejoin="round"/>
<path d="M349.00 207.23L356.88 222.90L341.12 222.90Z" fill="#dc143c" stroke="#dc143c" stroke-width="2.0" stroke-linejoin="round"/>
<path d="M438.00 113.23L445.88 128.90L430.12 128.90Z" fill="#dc143c" stroke="#dc143c" stroke-width="2.0" stroke-linejoin="round"/>
<clipPath id="cp"><rect x="111.2" y="13.2" width="556.0" height="551.5"/></clipPath>
<g clip-path="url(#cp)" stroke="#000" stroke-width="3.6" fill="none">
<line x1="78.16" y1="344.1" x2="667.2" y2="344.1" stroke-dasharray="14 5.82"/>
<line x1="389.2" y1="-19.05" x2="389.2" y2="564.7" stroke-dasharray="13.8 6"/>
</g>
<g stroke="#000" stroke-width="2.3">
<line x1="111.2" y1="13.2" x2="120.2" y2="13.2"/>
<line x1="111.2" y1="123.5" x2="120.2" y2="123.5"/>
<line x1="111.2" y1="233.8" x2="120.2" y2="233.8"/>
<line x1="111.2" y1="344.1" x2="120.2" y2="344.1"/>
<line x1="111.2" y1="454.4" x2="120.2" y2="454.4"/>
<line x1="111.2" y1="564.7" x2="120.2" y2="564.7"/>
<line x1="111.2" y1="564.7" x2="111.2" y2="555.5"/>
<line x1="250.2" y1="564.7" x2="250.2" y2="555.5"/>
<line x1="389.2" y1="564.7" x2="389.2" y2="555.5"/>
<line x1="528.2" y1="564.7" x2="528.2" y2="555.5"/>
<line x1="667.2" y1="564.7" x2="667.2" y2="555.5"/>
</g>
<path d="M111.2 13.05H667.6V565.0H111.2Z" fill="none" stroke="#000" stroke-width="2.2" stroke-linejoin="miter"/>
<g font-family="Liberation Serif" font-size="38" stroke="#000" stroke-width="0.45" fill="#000">
<text x="103" y="25.7" text-anchor="end">30</text>
<text x="103" y="136.0" text-anchor="end">20</text>
<text x="103" y="246.3" text-anchor="end">10</text>
<text x="103" y="356.6" text-anchor="end">0</text>
<text x="103" y="466.9" text-anchor="end">−10</text>
<text x="103" y="577.2" text-anchor="end">−20</text>
<text x="111.2" y="599.5" text-anchor="middle">−10</text>
<text x="250.2" y="599.5" text-anchor="middle">−5</text>
<text x="389.2" y="599.5" text-anchor="middle">0</text>
<text x="528.2" y="599.5" text-anchor="middle">5</text>
<text x="668.7" y="599.5" text-anchor="middle">10</text>
</g>
<g font-family="Liberation Serif" font-size="38" stroke="#000" stroke-width="0.45" fill="#000">
<text x="163.2" y="643.5" font-style="italic">p</text>
<text x="182.6" y="648.6" font-style="italic" font-size="27.5">ss</text>
<text x="204" y="643.5">:</text>
<text x="223.8" y="643.5" textLength="392.3" lengthAdjust="spacingAndGlyphs">SS Intervention Ratio [%]</text>
</g>
<text font-family="Liberation Serif" font-size="38" stroke="#000" stroke-width="0.45" transform="translate(25.5,471.4) rotate(-90)" textLength="365.1" lengthAdjust="spacingAndGlyphs">Changes in stiffness [%]</text>
<circle cx="181.2" cy="700.3" r="8.75" fill="#dc143c"/>
<path d="M173.5 745.4L188.8 760.6M173.5 760.6L188.8 745.4" stroke="#dc143c" stroke-width="3.85" fill="none"/>
<rect x="455.2" y="691.4" width="18" height="18" rx="1" fill="#000"/>
<path d="M464.20 745.53L472.08 761.20L456.32 761.20Z" fill="#dc143c" stroke="#dc143c" stroke-width="2.0" stroke-linejoin="round"/>
<g font-family="Liberation Serif" font-size="38" stroke="#000" stroke-width="0.45" fill="#000">
<text x="248.4" y="710.5" textLength="100.6" lengthAdjust="spacingAndGlyphs">PRT- 1</text>
<text x="248.4" y="762.6" textLength="100.6" lengthAdjust="spacingAndGlyphs">PRT- 2</text>
<text x="531.7" y="710.5" textLength="102.4" lengthAdjust="spacingAndGlyphs">PRT- 3</text>
<text x="531.7" y="762.6" textLength="102.4" lengthAdjust="spacingAndGlyphs">PRT- 4</text>
</g>
</svg>
</body></html>
